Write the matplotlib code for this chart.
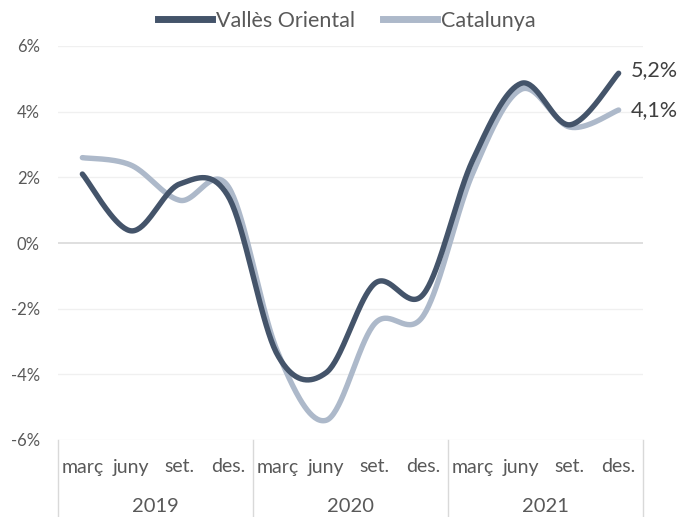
import numpy as np
import matplotlib
matplotlib.use("Agg")
import matplotlib.pyplot as plt
from matplotlib.lines import Line2D

# ---- data ----
months = ["març", "juny", "set.", "des."]
years = ["2019", "2020", "2021"]
valles = [2.1, 0.37, 1.8, 1.4, -3.4, -3.95, -1.23, -1.55, 2.5, 4.86, 3.6, 5.17]
catalunya = [2.6, 2.37, 1.3, 1.7, -3.3, -5.4, -2.45, -2.2, 2.1, 4.68, 3.53, 4.05]
end_labels = ["5,2%", "4,1%"]
yticks = [-6, -4, -2, 0, 2, 4, 6]

DARK = "#44546A"
LIGHT = "#ADB9CA"
TXT = "#595959"
plt.rcParams['font.family'] = ['Lato', 'DejaVu Sans']


def smooth(x, y, n=40):
    """Catmull-Rom style Bezier smoothing through the data points (like Excel smoothed lines)."""
    x = np.asarray(x, float)
    y = np.asarray(y, float)
    px = np.concatenate([[x[0]], x, [x[-1]]])
    py = np.concatenate([[y[0]], y, [y[-1]]])
    xs, ys = [], []
    t = np.linspace(0, 1, n)
    for i in range(1, len(px) - 2):
        p0x, p1x, p2x, p3x = px[i - 1], px[i], px[i + 1], px[i + 2]
        p0y, p1y, p2y, p3y = py[i - 1], py[i], py[i + 1], py[i + 2]
        c1x = p1x + (p2x - p0x) / 6
        c1y = p1y + (p2y - p0y) / 6
        c2x = p2x - (p3x - p1x) / 6
        c2y = p2y - (p3y - p1y) / 6
        b0 = (1 - t) ** 3
        b1 = 3 * (1 - t) ** 2 * t
        b2 = 3 * (1 - t) * t ** 2
        b3 = t ** 3
        xs.append(b0 * p1x + b1 * c1x + b2 * c2x + b3 * p2x)
        ys.append(b0 * p1y + b1 * c1y + b2 * c2y + b3 * p2y)
    return np.concatenate(xs), np.concatenate(ys)


fig = plt.figure(figsize=(6.8, 5.17), dpi=100)
ax = fig.add_axes([58 / 680, 1 - 440 / 517, 585 / 680, 394 / 517])

n = len(valles)
x = np.arange(n)
ax.set_xlim(-0.5, n - 0.5)
ax.set_ylim(-6, 6)

# gridlines
for yv in yticks:
    ax.axhline(yv, color="#D9D9D9" if yv == 0 else "#F0F0F0",
               lw=1.2 if yv == 0 else 1.0, zorder=0)

sx, sy = smooth(x, catalunya)
ax.plot(sx, sy, color=LIGHT, lw=3.9, solid_capstyle="round", zorder=2)
sx, sy = smooth(x, valles)
ax.plot(sx, sy, color=DARK, lw=3.9, solid_capstyle="round", zorder=3)

# end labels
ax.annotate(end_labels[0], (x[-1], valles[-1]), xytext=(9, 2), textcoords="offset points",
            va="center", ha="left", fontsize=15.5, color="#404040", annotation_clip=False)
ax.annotate(end_labels[1], (x[-1], catalunya[-1]), xytext=(9, 0), textcoords="offset points",
            va="center", ha="left", fontsize=15.5, color="#404040", annotation_clip=False)

# y axis
ax.set_yticks(yticks)
ax.set_yticklabels([f"{v}%" for v in yticks], fontsize=12, color=TXT)
ax.tick_params(axis="y", length=0, pad=13)
ax.tick_params(axis="x", length=0, labelbottom=False)
for s in ax.spines.values():
    s.set_visible(False)

# category axis (two levels)
trans = ax.get_xaxis_transform()
for i in range(n):
    ax.text(x[i], -27 / 394, months[i % 4], transform=trans, ha="center", va="center",
            fontsize=14, color=TXT)
for j, yr in enumerate(years):
    ax.text(4 * j + 1.5, -67 / 394, yr, transform=trans, ha="center", va="center",
            fontsize=14.5, color=TXT)
for k in range(len(years) + 1):
    ax.plot([4 * k - 0.5, 4 * k - 0.5], [0, -77 / 394], transform=trans, color="#D9D9D9",
            lw=1.0, clip_on=False)

# legend
handles = [Line2D([], [], color=DARK, lw=5), Line2D([], [], color=LIGHT, lw=5)]
fig.legend(handles, ["Vallès Oriental", "Catalunya"], loc="center", bbox_to_anchor=(347 / 680, 1 - 21 / 517),
           ncol=2, frameon=False, fontsize=15.5, handlelength=2.5, handletextpad=0.2,
           columnspacing=1.3, labelcolor=TXT)

fig.savefig("out.png", dpi=100)
